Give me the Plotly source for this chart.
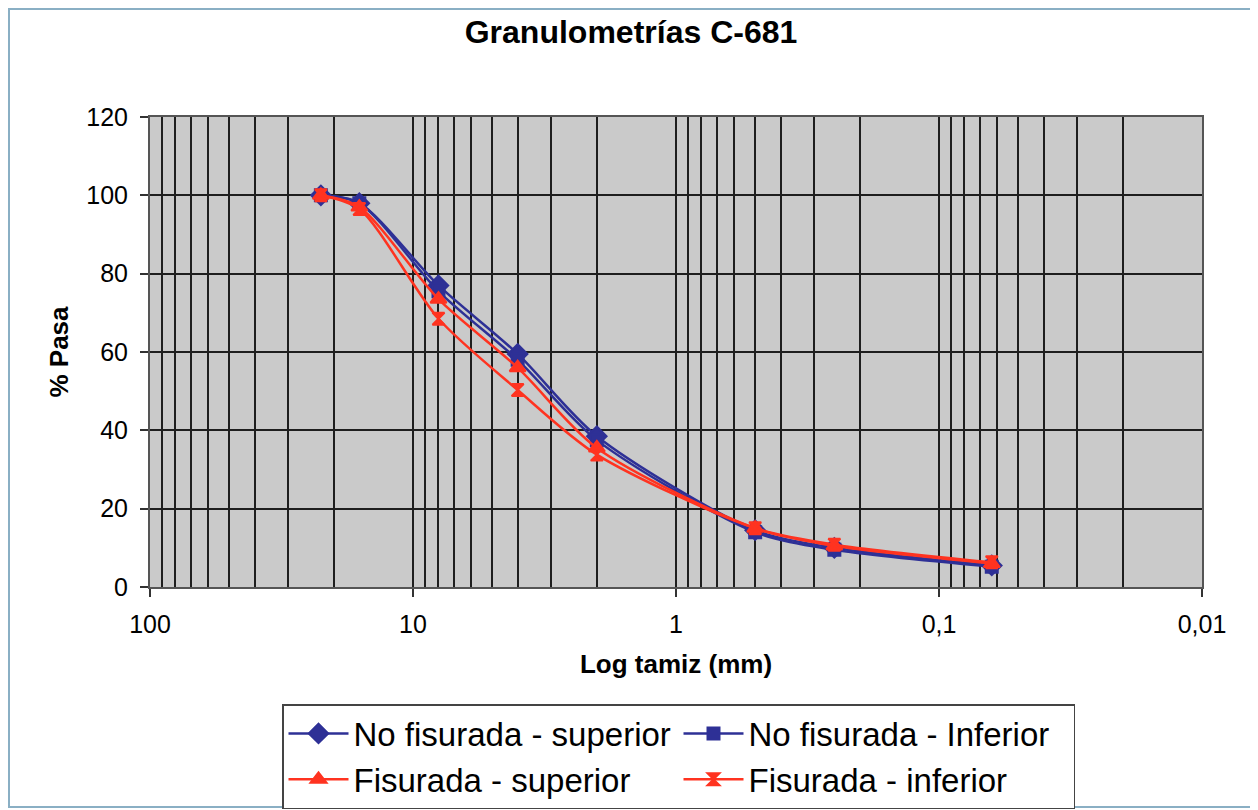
import plotly.graph_objects as go

# ---- data ----
tamiz_mm = [22.4, 16, 8, 4, 2, 0.5, 0.25, 0.063]
no_fis_sup = [100, 98, 77, 59.5, 38.5, 14.5, 10.0, 5.5]
no_fis_inf = [100, 98, 75.5, 58, 37.5, 14.0, 9.5, 5.2]
fis_sup = [100, 97, 73.5, 56, 35.5, 15.0, 10.5, 6.0]
fis_inf = [100, 96.5, 68.5, 50.3, 33.8, 15.0, 10.8, 6.3]

series_names = ["No fisurada - superior", "No fisurada - Inferior",
                "Fisurada - superior", "Fisurada - inferior"]
x_tickvals = [100, 10, 1, 0.1, 0.01]
x_ticktext = ["100", "10", "1", "0,1", "0,01"]
minor_vals = [m * d for d in [0.01, 0.1, 1, 10] for m in range(2, 10)]

BLUE = "#2E3096"
RED = "#FF3320"
FONT = "Liberation Sans, Arial, sans-serif"

# the page body adds an 8 px offset; layout is expressed in figure pixels
OFF = 8
W, H = 1258, 810
ML, MT = 150 - OFF, 117 - OFF
PW, PH = 1052, 470
MR, MB = W - ML - PW, H - MT - PH

fig = go.Figure()
styles = [
    (no_fis_sup, BLUE, "diamond", 15),
    (no_fis_inf, BLUE, "square", 12),
    (fis_sup, RED, "triangle-up", 14),
    (fis_inf, RED, "hourglass", 12),
]
for name, (vals, col, sym, sz) in zip(series_names, styles):
    fig.add_trace(go.Scatter(
        x=tamiz_mm, y=vals, name=name, mode="lines+markers",
        line=dict(color=col, width=2.5, shape="spline", smoothing=0.8),
        marker=dict(symbol=sym, size=sz, color=col, line=dict(color=col, width=2)),
    ))

fig.update_layout(
    width=W, height=H,
    margin=dict(l=ML, r=MR, t=MT, b=MB, autoexpand=False),
    paper_bgcolor="white",
    plot_bgcolor="#CACACA",
    font=dict(family=FONT, color="black", size=25),
    title=dict(text="<b>Granulometrías C-681</b>", x=(631 - OFF) / W, xref="container",
               xanchor="center", y=1 - 24 / H, yref="container", yanchor="middle",
               font=dict(size=32, family=FONT)),
    showlegend=True,
    legend=dict(orientation="h", x=(282 - OFF - ML) / PW, xanchor="left",
                y=(MT + PH - (704 - OFF)) / PH, yanchor="top",
                bgcolor="white", bordercolor="#444", borderwidth=1.5,
                font=dict(size=33, family=FONT),
                entrywidth=320, entrywidthmode="pixels", itemwidth=60,
                traceorder="normal", tracegroupgap=0),
)

fig.update_xaxes(
    type="log", range=[2, -2], automargin=False,
    tickmode="array", tickvals=x_tickvals, ticktext=x_ticktext,
    ticks="outside", ticklen=8, tickcolor="#333", tickwidth=1.5,
    ticklabelstandoff=6,
    showgrid=True, gridcolor="#1E1E1E", gridwidth=1.5,
    minor=dict(tickmode="array", tickvals=minor_vals, showgrid=True,
               gridcolor="#1E1E1E", gridwidth=1.5, ticks=""),
    showline=True, linecolor="#555", linewidth=2, mirror=True,
    zeroline=False,
    title=dict(text="<b>Log tamiz (mm)</b>", font=dict(size=26, family=FONT), standoff=18),
)
fig.update_yaxes(
    range=[0, 120], dtick=20, tick0=0, automargin=False,
    ticks="outside", ticklen=8, tickcolor="#333", tickwidth=1.5,
    ticklabelstandoff=7,
    showgrid=True, gridcolor="#1E1E1E", gridwidth=1.5,
    showline=True, linecolor="#555", linewidth=2, mirror=True,
    zeroline=False,
    title=dict(text="<b>% Pasa</b>", font=dict(size=26, family=FONT), standoff=10),
)

# outer frame around the whole chart (pixel edges converted to plot-area paper units)
fx0, fx1, fy0, fy1 = 1, 1254 - OFF, 1, 807 - OFF
fig.add_shape(type="rect", xref="paper", yref="paper",
              x0=(fx0 - ML) / PW, x1=(fx1 - ML) / PW,
              y0=(MT + PH - fy1) / PH, y1=(MT + PH - fy0) / PH,
              line=dict(color="#8AAFC4", width=2), layer="below")

fig.write_html("out.html")
